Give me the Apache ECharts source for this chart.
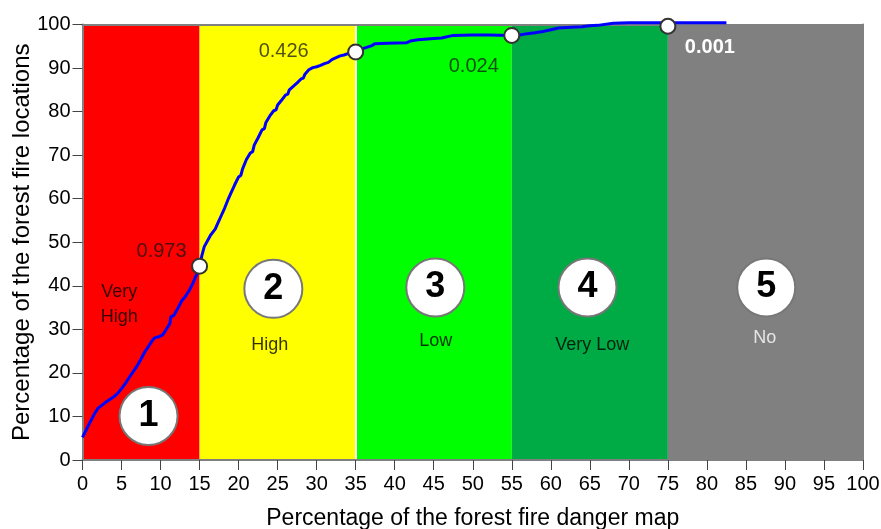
<!DOCTYPE html>
<html>
<head>
<meta charset="utf-8">
<script src="https://cdn.jsdelivr.net/npm/echarts@6/dist/echarts.min.js"></script>
<style>
  html, body { margin: 0; padding: 0; background: #fff; }
  #chart { width: 881px; height: 529px; }
</style>
</head>
<body>
<div id="chart"></div>
<script>
// Danger classes: bounds on the map-percentage axis
const zoneBounds = [[0, 15], [15, 35], [35, 55], [55, 75], [75, 100]];
const zoneColors = ['#ff0000', '#ffff00', '#00ff00', '#00aa44', '#808080'];
const zoneNumbers = ['1', '2', '3', '4', '5'];
const zoneNames = ['Very\nHigh', 'High', 'Low', 'Very Low', 'No'];

// Cumulative share of fire locations vs. cumulative share of the danger map
const curvePoints = [
  [0, 5.2], [0.5, 7.0], [1, 8.8], [1.5, 10.5], [2, 11.9], [2.5, 12.6], [3, 13.3], [3.5, 13.9],
  [4, 14.5], [4.5, 15.3], [5, 16.4], [5.5, 17.6], [6, 19.0], [6.5, 20.3], [7, 21.6], [7.5, 23.2],
  [8, 24.9], [8.5, 26.2], [9, 27.6], [9.3, 28.1], [9.8, 28.3], [10.3, 28.8], [10.8, 30.2],
  [11.2, 31.3], [11.3, 32.8], [11.7, 33.2], [12.2, 34.8], [12.7, 36.5], [13.2, 37.6], [13.7, 39.0],
  [14.2, 40.8], [14.6, 42.5], [15, 44.5], [15.3, 47.0], [15.6, 49.0], [16, 50.3], [16.4, 51.6],
  [16.6, 51.9], [17, 53.0], [17.4, 54.6], [17.6, 55.0], [17.8, 56.2], [18.2, 57.8], [18.6, 59.6],
  [18.8, 59.9], [19, 61.2], [19.5, 63.2], [20, 65.0], [20.3, 65.4], [20.5, 66.8], [21, 69.0],
  [21.5, 70.5], [21.8, 70.8], [22, 72.3], [22.5, 74.0], [23, 75.8], [23.3, 76.1], [23.5, 77.5],
  [24, 79.0], [24.5, 80.2], [24.8, 80.4], [25, 81.5], [25.5, 82.6], [26, 83.8], [26.3, 84.0],
  [26.5, 85.0], [27, 85.8], [27.5, 86.6], [28, 87.5], [28.3, 87.7], [28.5, 88.6], [29, 89.6],
  [29.5, 90.1], [30, 90.3], [30.5, 90.6], [31, 91.0], [31.5, 91.3], [32, 92.0], [32.5, 92.4],
  [33, 92.8], [33.5, 93.0], [34, 93.3], [35, 93.7], [35.5, 94.2], [36, 94.5], [37, 95.1],
  [37.5, 95.6], [39, 95.7], [41.5, 95.8], [42, 96.2], [43, 96.5], [45, 96.8], [46, 96.9],
  [47.5, 97.5], [50, 97.6], [52, 97.6], [55, 97.5], [56, 97.6], [57, 97.9], [58, 98.1],
  [59, 98.4], [60, 98.8], [61, 99.2], [62, 99.3], [64, 99.5], [65, 99.7], [66, 99.8], [68, 100.3],
  [70, 100.4], [75, 100.4], [82.5, 100.4]
];

// Class-break points on the curve and the ratios written next to them
const breakPoints = [[15, 44.5], [35, 93.7], [55, 97.5], [75, 99.6]];
const breakRatios = ['0.973', '0.426', '0.024', '0.001'];

const xTicks = { min: 0, max: 100, step: 5 };
const yTicks = { min: 0, max: 100, step: 10 };

const FONT = '"Liberation Sans", Arial, sans-serif';

// Where each class badge and class caption sits (data units)
const badgeAt = [[8.46, 10.1], [24.45, 39.3], [45.2, 39.6], [64.7, 39.6], [87.6, 39.6]];
const captionAt = [[4.7, 35.8], [24.0, 26.4], [45.25, 27.3], [65.3, 26.4], [87.4, 27.9]];
const captionColors = ['#000', '#000', '#000', '#000', '#fff'];

// Pixel offsets of the ratio texts from their break points
const ratioOffsets = [[-38, -15], [-72, 0], [-38, 31], [42, 21]];
const ratioStyles = [
  { color: 'rgba(20,20,20,0.75)', fontWeight: 'normal' },
  { color: 'rgba(20,20,20,0.75)', fontWeight: 'normal' },
  { color: 'rgba(20,20,20,0.75)', fontWeight: 'normal' },
  { color: '#ffffff', fontWeight: 'bold' }
];

const chart = echarts.init(document.getElementById('chart'), null, { renderer: 'canvas' });

const axisGray = '#808080';

chart.setOption({
  animation: false,
  backgroundColor: '#ffffff',
  grid: {
    left: 82.5, right: 18, top: 24.5, bottom: 69,
    containLabel: false, outerBoundsMode: 'none'
  },
  xAxis: [
    {
      type: 'value', min: xTicks.min, max: xTicks.max, interval: xTicks.step,
      position: 'bottom', z: 6,
      name: 'Percentage of the forest fire danger map',
      nameLocation: 'middle', nameGap: 47, nameMoveOverlap: false,
      nameTextStyle: { fontFamily: FONT, fontSize: 23, color: '#000' },
      axisLine: { show: true, onZero: false, lineStyle: { color: axisGray, width: 2 } },
      axisTick: { show: true, length: 10, lineStyle: { color: '#444', width: 1 } },
      axisLabel: { fontFamily: FONT, fontSize: 20, color: '#000', margin: 14 },
      splitLine: { show: false }
    },
    {
      type: 'value', min: xTicks.min, max: xTicks.max, position: 'top', z: 6,
      axisLine: { show: true, onZero: false, lineStyle: { color: axisGray, width: 2 } },
      axisTick: { show: false }, axisLabel: { show: false }, splitLine: { show: false }
    }
  ],
  yAxis: [
    {
      type: 'value', min: yTicks.min, max: yTicks.max, interval: yTicks.step,
      position: 'left', z: 6,
      name: 'Percentage of the forest fire locations',
      nameLocation: 'middle', nameGap: 48, nameMoveOverlap: false,
      nameTextStyle: { fontFamily: FONT, fontSize: 24, color: '#000' },
      axisLine: { show: true, onZero: false, lineStyle: { color: axisGray, width: 2 } },
      axisTick: { show: true, length: 10, lineStyle: { color: '#444', width: 1 } },
      axisLabel: { fontFamily: FONT, fontSize: 20, color: '#000', margin: 12 },
      splitLine: { show: false }
    },
    {
      type: 'value', min: yTicks.min, max: yTicks.max, position: 'right', z: 6,
      axisLine: { show: true, onZero: false, lineStyle: { color: axisGray, width: 2 } },
      axisTick: { show: false }, axisLabel: { show: false }, splitLine: { show: false }
    }
  ],
  series: [
    {
      // coloured class bands plus the white divider at 35 %
      type: 'line', data: [], silent: true, z: 1,
      markArea: {
        silent: true,
        data: zoneBounds.map((b, i) => [
          { xAxis: b[0], yAxis: yTicks.min, itemStyle: { color: zoneColors[i], opacity: 1 } },
          { xAxis: b[1], yAxis: yTicks.max }
        ])
      },
      markLine: {
        silent: true, symbol: 'none', label: { show: false },
        lineStyle: { color: '#ffffff', width: 2, type: 'solid' },
        data: [{ xAxis: zoneBounds[2][0] }]
      }
    },
    {
      type: 'line', data: curvePoints, showSymbol: false, clip: false, z: 7,
      lineStyle: { color: '#0000ff', width: 3 }, itemStyle: { color: '#0000ff' }
    },
    {
      type: 'scatter', z: 8, clip: false,
      symbol: 'circle', symbolSize: 15,
      itemStyle: { color: '#ffffff', borderColor: '#333', borderWidth: 2, opacity: 1 },
      data: breakPoints.map((p, i) => ({
        value: p,
        name: breakRatios[i],
        label: {
          show: true, position: 'inside', formatter: '{b}',
          offset: ratioOffsets[i],
          fontFamily: FONT, fontSize: 20,
          color: ratioStyles[i].color, fontWeight: ratioStyles[i].fontWeight
        }
      }))
    },
    {
      type: 'scatter', z: 3,
      symbol: 'circle', symbolSize: 58,
      itemStyle: { color: '#ffffff', borderColor: '#777', borderWidth: 2, opacity: 1 },
      label: {
        show: true, position: 'inside', formatter: '{b}',
        fontFamily: FONT, fontSize: 36, fontWeight: 'bold', color: '#000'
      },
      data: zoneNumbers.map((n, i) => ({ value: badgeAt[i], name: n }))
    },
    {
      type: 'scatter', z: 3, symbolSize: 0,
      label: {
        show: true, position: 'inside', formatter: '{b}',
        fontFamily: FONT, fontSize: 18, lineHeight: 25
      },
      data: zoneNames.map((n, i) => ({
        value: captionAt[i], name: n,
        label: { color: captionColors[i] }
      }))
    }
  ]
});
</script>
</body>
</html>
